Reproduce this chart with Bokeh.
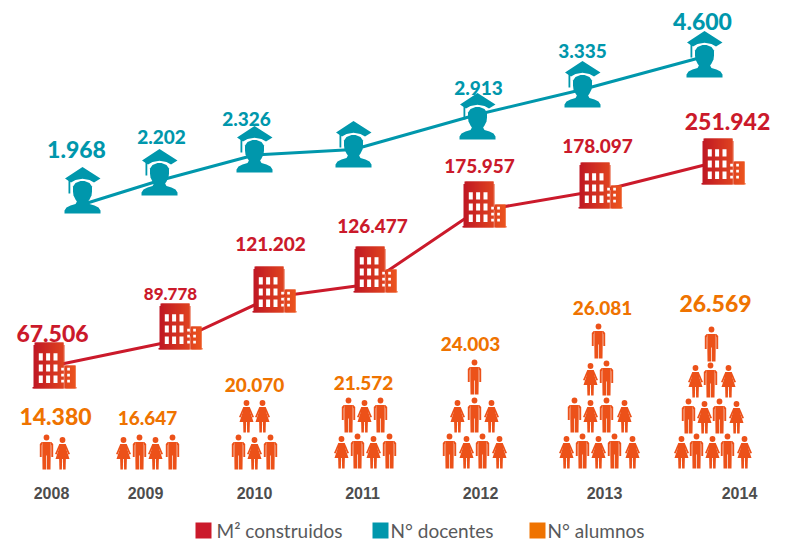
from bokeh.plotting import figure
from bokeh.models import ColumnDataSource, Range1d
from bokeh.core.properties import value
from bokeh.embed import file_html
from bokeh.resources import INLINE

# ---- chart values ----
years = ["2008", "2009", "2010", "2011", "2012", "2013", "2014"]
docentes_labels = ["1.968", "2.202", "2.326", "", "2.913", "3.335", "4.600"]
construidos_labels = ["67.506", "89.778", "121.202", "126.477", "175.957", "178.097", "251.942"]
alumnos_labels = ["14.380", "16.647", "20.070", "21.572", "24.003", "26.081", "26.569"]
legend_names = ["M\u00b2 construidos", "N\u00b0 docentes", "N\u00b0 alumnos"]
# pictogram rows per year, top row first: m = man, w = woman
alumnos_rows = [
    ["mw"],
    ["wmwm"],
    ["ww", "mwm"],
    ["mwm", "wmwm"],
    ["m", "wmw", "mwmw"],
    ["m", "wm", "mwmw", "wmwmw"],
    ["m", "wmw", "mwmw", "wmwmw"],
]

# ---- the picture's own scale (the lines are illustrative, not proportional) ----
doc_x = [82, 159, 254, 353, 477, 582, 704]
doc_line = [204, 180, 154.5, 149, 114, 89, 56]
doc_base = [213, 195, 172, 167, 139, 107, 77]
con_x = [32, 158, 252, 353, 462, 578, 701]
con_base = [388, 349, 312, 292, 227, 208, 184]
con_line_x = [54, 180, 270, 367, 475, 610, 722]
con_line = [365, 339, 297, 284, 211, 188, 160]
doc_lab = dict(x=[76, 161, 246, 353, 478, 582, 702], y=[149, 136, 118, 0, 87, 50, 21],
               s=["23px", "19px", "19px", "19px", "19px", "19px", "23px"])
con_lab = dict(x=[52, 170, 270, 372, 479, 597, 727], y=[333, 293, 243, 225, 165, 145, 121],
               s=["23px", "17px", "19px", "19px", "19px", "19px", "23px"])
alu_lab = dict(x=[55, 147, 254, 363, 470, 602, 715], y=[416, 417, 384, 382, 343, 307, 303],
               s=["23px", "19px", "19px", "19px", "19px", "19px", "23px"])
year_x = [51, 145, 254, 362, 480, 604, 739]
row_base = [
    [469],
    [469],
    [432, 469],
    [432, 468],
    [394, 432, 468],
    [358, 395, 432, 468],
    [361, 397, 433, 468],
]
row_x = [
    [[46, 62]],
    [[123, 139, 155, 172]],
    [[246, 262], [238, 254, 270]],
    [[348, 364, 380], [341, 357, 373, 389]],
    [[474], [457, 474, 491], [449, 466, 482, 499]],
    [[598], [590, 606], [574, 590, 606, 624], [566, 582, 598, 614, 632]],
    [[711], [695, 710, 728], [688, 704, 719, 736], [681, 696, 712, 727, 744]],
]
legend_x = [195, 372, 529]
legend_text_x = [216, 390, 547]

RED, TEAL, ORANGE, PERSON = "#cb1a2b", "#0097ac", "#ef7300", "#ec5119"
GREY_Y, GREY_L = "#4d4d4d", "#58595b"

p = figure(width=790, height=542, output_backend="svg", toolbar_location=None,
           x_range=Range1d(0, 790), y_range=Range1d(542, 0), min_border=0)
p.axis.visible = False
p.grid.visible = False
p.outline_line_color = None
p.background_fill_color = "white"

# ---- connecting lines ----
p.line(doc_x, doc_line, line_color=TEAL, line_width=3)
p.line(con_line_x, con_line, line_color=RED, line_width=3)

# ---- graduates ----
SHOULDERS = [(-18, 0), (-18, -3), (-16, -6), (-12, -8), (-7, -9.5), (-5, -13), (5, -13), (7, -9.5),
             (12, -8), (16, -6), (18, -3), (18, 0)]
HEAD = [(-5, -11), (-7, -14), (-9, -18), (-9.5, -22), (-9.5, -27), (-7, -30.5), (-2, -32.5), (2, -32.5),
        (7, -30.5), (9.5, -27), (9.5, -22), (9, -18), (7, -14), (5, -11)]
CAP = [(-17.5, -35), (0, -46.5), (18, -35), (11.5, -31), (7, -33.5), (0, -34.8), (-7, -33.5), (-11.5, -31)]
TASSEL = [(-14, -34), (-12.2, -34), (-12.2, -20), (-14, -20)]

gx, gy = [], []
for cx, b in zip(doc_x, doc_base):
    for shape in (SHOULDERS, HEAD, CAP, TASSEL):
        gx.append([cx + a for a, _ in shape])
        gy.append([b + c for _, c in shape])
p.patches(gx, gy, fill_color=TEAL, line_color=None)

# ---- buildings with a left-to-right red/orange gradient ----
def mix(t):
    a, c = (0xbf, 0x17, 0x24), (0xec, 0x55, 0x1e)
    return "#%02x%02x%02x" % tuple(round(a[i] + (c[i] - a[i]) * t) for i in range(3))

def top_at(u):
    if u < 1 or u >= 43:
        return -1.5
    if u >= 31.5:
        return -23
    if u < 2 or u >= 31:
        return -43.5
    return -46

sl, sr, st, sb, sc = [], [], [], [], []
wl, wr, wt, wb = [], [], [], []
for x0, b in zip(con_x, con_base):
    for i in range(44):
        h, nxt = top_at(i), top_at(i + 1) if i < 43 else 0
        sl.append(x0 + i)
        sr.append(x0 + i + (1 if nxt > h else 2))
        st.append(b + h)
        sb.append(b)
        sc.append(mix(i / 43))
    for cl in (6.3, 13.6, 21):
        for rt, rb in ((-35.3, -28), (-24, -17), (-13, -5.5)):
            wl.append(x0 + cl); wr.append(x0 + cl + 4); wt.append(b + rt); wb.append(b + rb)
    for cl in (28.7, 34.7):
        for rt, rb in ((-20.7, -18), (-14.7, -12), (-8.7, -6)):
            wl.append(x0 + cl); wr.append(x0 + cl + 2.7); wt.append(b + rt); wb.append(b + rb)
p.quad(left=sl, right=sr, top=st, bottom=sb, fill_color=sc, line_color=None)
p.quad(left=wl, right=wr, top=wt, bottom=wb, fill_color="white", line_color=None)

# ---- people ----
MAN = [
    [(-4.2, -27.5), (4.2, -27.5), (4.2, -14), (4, 0), (0.35, 0), (0.35, -14), (-0.35, -14), (-0.35, 0), (-4, 0), (-4.2, -14)],
    [(-4.8, -27.5), (-3.8, -27.5), (-4.8, -24), (-4.8, -12.5), (-6.7, -12.5), (-6.7, -25.5)],
    [(4.8, -27.5), (3.8, -27.5), (4.8, -24), (4.8, -12.5), (6.7, -12.5), (6.7, -25.5)],
]
WOMAN = [
    [(-2.8, -25.5), (2.8, -25.5), (4.2, -19), (7, -10.5), (-7, -10.5), (-4.2, -19)],
    [(-3.2, -25.5), (-1.5, -25.5), (-5.8, -15), (-7.5, -15.5)],
    [(3.2, -25.5), (1.5, -25.5), (5.8, -15), (7.5, -15.5)],
    [(-3.4, -11), (-0.4, -11), (-0.6, 0), (-3.1, 0)],
    [(0.4, -11), (3.4, -11), (3.1, 0), (0.6, 0)],
]
px, py, hx, hy = [], [], [], []
for rows, bases, xs in zip(alumnos_rows, row_base, row_x):
    for row, base, cols in zip(rows, bases, xs):
        for kind, cx in zip(row, cols):
            for shape in (MAN if kind == "m" else WOMAN):
                px.append([cx + a for a, _ in shape])
                py.append([base + c for _, c in shape])
            hx.append(cx)
            hy.append(base + (-32 if kind == "m" else -29.5))
p.patches(px, py, fill_color=PERSON, line_color=None)
p.circle(hx, hy, radius=2.9, fill_color=PERSON, line_color=None)

# ---- value labels ----
def labels(texts, pos, color):
    src = ColumnDataSource(dict(x=pos["x"], y=pos["y"], t=texts, s=pos["s"]))
    p.text("x", "y", text="t", source=src, text_color=color, text_font=value("Lato Heavy"),
           text_font_size={"field": "s"},
           text_align="center", text_baseline="middle")

labels(docentes_labels, doc_lab, TEAL)
labels(construidos_labels, con_lab, RED)
labels(alumnos_labels, alu_lab, ORANGE)

p.text(year_x, [492] * 7, text=years, text_color=GREY_Y, text_font=value("Liberation Sans"),
       text_font_style="bold", text_font_size="16px", text_align="center", text_baseline="middle")

# ---- legend ----
p.quad(left=legend_x, right=[v + 16 for v in legend_x], top=[522] * 3, bottom=[538] * 3,
       fill_color=[RED, TEAL, ORANGE], line_color=None)
p.text(legend_text_x, [530] * 3, text=legend_names, text_color=GREY_L, text_font=value("Lato"),
       text_font_size="19px", text_align="left", text_baseline="middle")

open("out.html", "w").write(file_html(p, INLINE))
